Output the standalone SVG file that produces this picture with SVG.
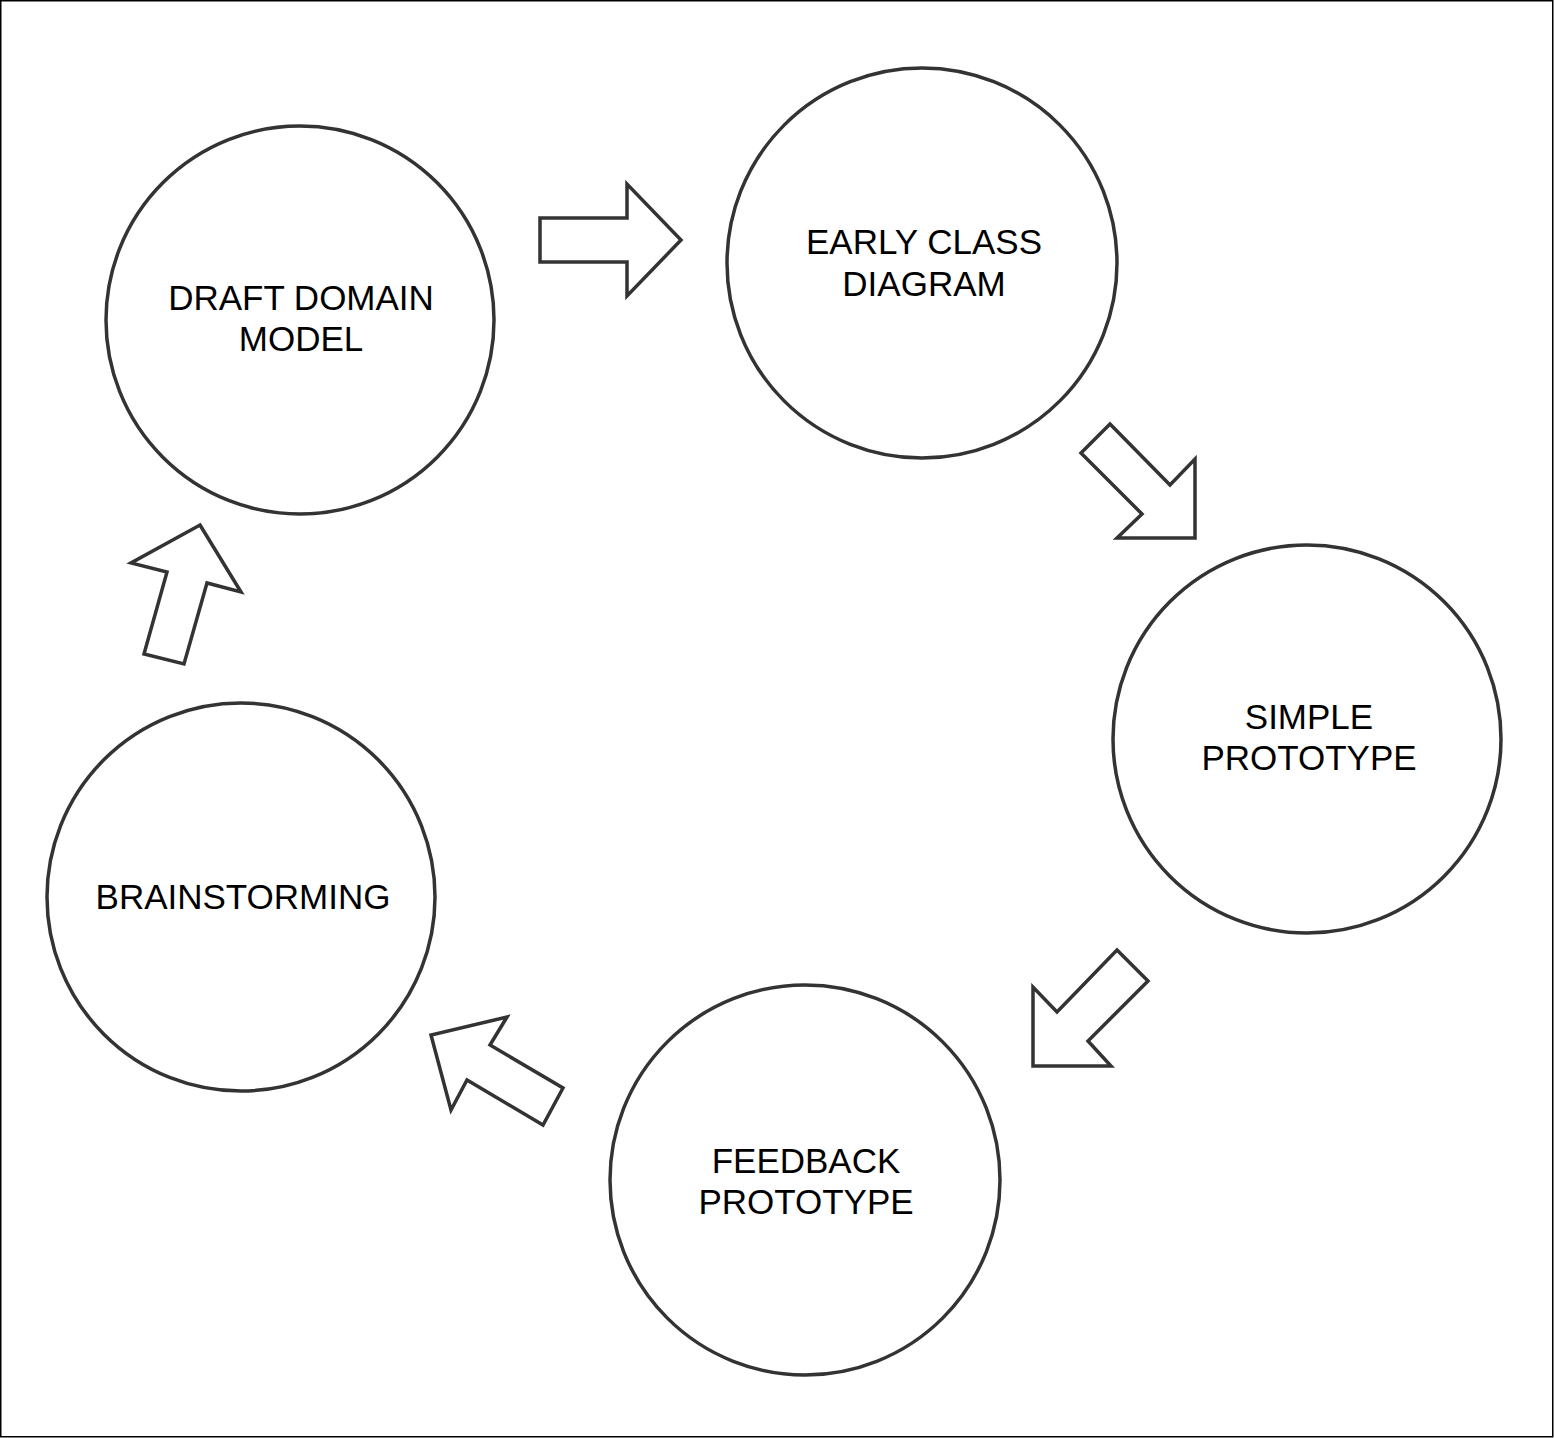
<svg xmlns="http://www.w3.org/2000/svg" width="1554" height="1438" viewBox="0 0 1554 1438">
<style>
.node circle{fill:#fff;stroke:#333;stroke-width:3.5}
.node text{font-family:"Liberation Sans",Arial,sans-serif;font-size:35px;fill:#000;text-anchor:middle}
.arrow{fill:#fff;stroke:#333;stroke-width:3.5;stroke-linejoin:miter}
</style>
<rect x="0" y="0" width="1554" height="1438" fill="#fff"/>
<rect x="0.75" y="0.75" width="1552" height="1436" fill="none" stroke="#000" stroke-width="1.5"/>
<g id="connectors">
<polygon class="arrow" points="540,218 627,218 627,184 681,240 627,296 627,262 540,262"/>
<polygon class="arrow" points="1110,424 1170,485 1195,459 1195,538 1117,538 1142,514 1081,453"/>
<polygon class="arrow" points="1117,950 1148,981 1088,1041 1111,1066 1033,1066 1033,987 1057,1012"/>
<polygon class="arrow" points="507,1017 490,1045 563,1088 543,1125 467,1080 451,1110 431,1035"/>
<polygon class="arrow" points="200,525 241,592 207,583 184,664 144,654 167,572 131,563"/>
</g>
<g id="draft-domain-model" class="node">
<circle cx="300" cy="320" r="194"/>
<text x="301" y="310">DRAFT DOMAIN</text>
<text x="301" y="351">MODEL</text>
</g>
<g id="early-class-diagram" class="node">
<circle cx="922" cy="263" r="195"/>
<text x="924" y="254">EARLY CLASS</text>
<text x="924" y="296">DIAGRAM</text>
</g>
<g id="simple-prototype" class="node">
<circle cx="1307" cy="739" r="194"/>
<text x="1309" y="729">SIMPLE</text>
<text x="1309" y="770">PROTOTYPE</text>
</g>
<g id="brainstorming" class="node">
<circle cx="241" cy="897" r="194"/>
<text x="243" y="909">BRAINSTORMING</text>
</g>
<g id="feedback-prototype" class="node">
<circle cx="805" cy="1180" r="195"/>
<text x="806" y="1173">FEEDBACK</text>
<text x="806" y="1214">PROTOTYPE</text>
</g>
</svg>
